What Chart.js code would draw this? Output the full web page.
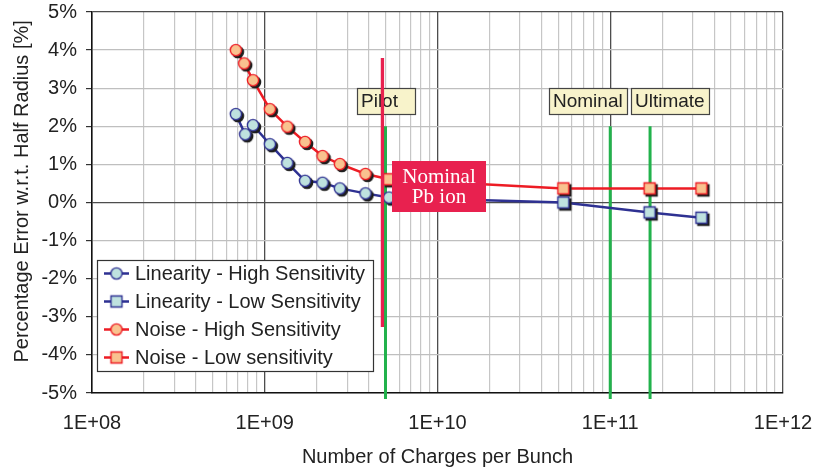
<!DOCTYPE html>
<html>
<head>
<meta charset="utf-8">
<script src="https://cdn.jsdelivr.net/npm/chart.js@4.4.0/dist/chart.umd.min.js"></script>
<style>
    html, body { margin: 0; padding: 0; background: #fff; }
    #wrap { width: 815px; height: 471px; }
</style>
</head>
<body>
<div id="wrap"><canvas id="myChart" width="815" height="471"></canvas></div>
<script>
// charges per bunch (x) and percentage error (y)
const linHighX = [6.8e8, 7.7e8, 8.55e8, 1.07e9, 1.35e9, 1.71e9, 2.16e9, 2.72e9, 3.83e9, 5.24e9];
const linHighY = [2.32, 1.79, 2.03, 1.53, 1.04, 0.57, 0.52, 0.37, 0.24, 0.13];
// first point of the low series is the joint with the high series (no marker)
const linLowX = [5.24e9, 5.35e10, 1.69e11, 3.37e11];
const linLowY = [0.13, 0.00, -0.26, -0.40];
const noiseHighX = [6.8e8, 7.6e8, 8.55e8, 1.07e9, 1.35e9, 1.71e9, 2.16e9, 2.72e9, 3.83e9];
const noiseHighY = [4.00, 3.65, 3.21, 2.45, 1.99, 1.59, 1.22, 1.01, 0.75];
const noiseLowX = [3.83e9, 5.24e9, 5.35e10, 1.69e11, 3.37e11];
const noiseLowY = [0.75, 0.61, 0.37, 0.37, 0.37];

const seriesNames = ['Linearity - High Sensitivity', 'Linearity - Low Sensitivity', 'Noise - High Sensitivity', 'Noise - Low sensitivity'];

// vertical markers
const beamLabels = ['Pilot', 'Nominal', 'Ultimate'];
const beamCharges = [5e9, 1e11, 1.7e11];
const pbIonCharges = 4.8e9;
const pbIonLabel = ['Nominal', 'Pb ion'];

const yTicks = [-5, -4, -3, -2, -1, 0, 1, 2, 3, 4, 5];

let xTicks = [];
for (let e = 8; e < 12; e++) {
    for (let m = 1; m < 10; m++) {
        xTicks.push(Number((m * Math.pow(10, e)).toPrecision(3)));
    }
}
xTicks.push(1e12);

function isDecade(v) {
    const l = Math.log10(v);
    return Math.abs(l - Math.round(l)) < 1e-9;
}

function marker(shape, fill, stroke, shadow) {
    const c = document.createElement('canvas');
    c.width = 20; c.height = 20;
    const g = c.getContext('2d');
    const paint = (cx, cy, f, s) => {
        g.beginPath();
        if (shape === 'circle') g.arc(cx, cy, 5.6, 0, Math.PI * 2);
        else g.rect(cx - 5.5, cy - 5.5, 11, 11);
        g.fillStyle = f;
        g.fill();
        g.lineWidth = 1.4;
        g.strokeStyle = s;
        g.stroke();
    };
    if (shadow) paint(12, 12, '#1e1e1e', '#1e1e1e');
    paint(10, 10, fill, stroke);
    return c;
}

const navy = '#2e3192';
const red = '#ed1c24';
const cyanFill = '#bfe2df';
const peachFill = '#f9c28f';
const green = '#22b24c';
const pink = '#e8214f';

const shapes = ['circle', 'rect', 'circle', 'rect'];
const lineColors = [navy, navy, red, red];
const fills = [cyanFill, cyanFill, peachFill, peachFill];
const plotMarks = shapes.map((s, i) => marker(s, fills[i], lineColors[i], true));
const legendMarks = shapes.map((s, i) => marker(s, fills[i], lineColors[i], false));

const xs = [linHighX, linLowX, noiseHighX, noiseLowX];
const ys = [linHighY, linLowY, noiseHighY, noiseLowY];

const datasets = seriesNames.map((name, i) => ({
    label: name,
    data: xs[i].map((x, k) => ({ x: x, y: ys[i][k] })),
    borderColor: lineColors[i],
    backgroundColor: fills[i],
    borderWidth: 2.5,
    pointStyle: plotMarks[i],
    pointRadius: (i % 2 === 1) ? (c => c.dataIndex === 0 ? 0 : 6) : 6,
    tension: 0,
    fill: false
}));

const FONT = '"Liberation Sans", Arial, sans-serif';
Chart.defaults.font.family = FONT;

const beamLines = {
    id: 'beamLines',
    beforeDatasetsDraw(chart) {
        const c = chart.ctx, sx = chart.scales.x, sy = chart.scales.y;
        c.save();
        c.strokeStyle = green;
        c.lineWidth = 3;
        beamCharges.forEach(v => {
            const px = sx.getPixelForValue(v);
            c.beginPath();
            c.moveTo(px, sy.getPixelForValue(2));
            c.lineTo(px, sy.bottom + 6);
            c.stroke();
        });
        c.restore();
    },
    afterDatasetsDraw(chart) {
        const c = chart.ctx, sx = chart.scales.x, sy = chart.scales.y;
        c.save();
        // label boxes
        const boxes = [[357, 88, 58], [549, 88, 78], [631, 88, 78]];
        c.font = '19px ' + FONT;
        c.textBaseline = 'middle';
        c.textAlign = 'left';
        boxes.forEach((b, i) => {
            c.fillStyle = '#f8f3cb';
            c.fillRect(b[0], b[1], b[2], 26);
            c.strokeStyle = '#444';
            c.lineWidth = 1.2;
            c.strokeRect(b[0] + 0.5, b[1] + 0.5, b[2], 26);
            c.fillStyle = '#222';
            c.fillText(beamLabels[i], b[0] + 4, b[1] + 14);
        });
        // Pb ion line
        const px = sx.getPixelForValue(pbIonCharges);
        c.strokeStyle = pink;
        c.lineWidth = 3.3;
        c.beginPath();
        c.moveTo(px, sy.getPixelForValue(3.79));
        c.lineTo(px, sy.getPixelForValue(-3.27));
        c.stroke();
        // Pb ion box
        c.fillStyle = pink;
        c.fillRect(392, 161, 94, 51);
        c.fillStyle = '#fff';
        c.font = '21px "Liberation Serif", "Times New Roman", serif';
        c.textAlign = 'center';
        c.fillText(pbIonLabel[0], 439, 177);
        c.fillText(pbIonLabel[1], 439, 197);
        c.restore();
    }
};

const legendBox = {
    id: 'legendBox',
    afterDraw(chart) {
        const c = chart.ctx;
        c.save();
        c.fillStyle = '#fff';
        c.fillRect(97.5, 260.5, 276, 111);
        c.strokeStyle = '#333';
        c.lineWidth = 1.2;
        c.strokeRect(97.5, 260.5, 276, 111);
        c.font = '20px ' + FONT;
        c.textBaseline = 'middle';
        c.textAlign = 'left';
        chart.data.datasets.forEach((ds, i) => {
            const y = 273.5 + i * 28;
            c.strokeStyle = ds.borderColor;
            c.lineWidth = 2.5;
            c.beginPath();
            c.moveTo(104, y);
            c.lineTo(129, y);
            c.stroke();
            c.drawImage(legendMarks[i], 116.5 - 10, y - 10);
            c.fillStyle = '#222';
            c.fillText(ds.label, 135, y + 1);
        });
        c.restore();
    }
};

const ctx = document.getElementById('myChart');
const myChart = new Chart(ctx, {
    type: 'line',
    data: { datasets: datasets },
    options: {
        responsive: false,
        animation: false,
        layout: { padding: { left: 0, right: 32, top: 12, bottom: 0 } },
        plugins: { legend: { display: false }, tooltip: { enabled: false } },
        scales: {
            x: {
                type: 'logarithmic',
                min: 1e8,
                max: 1e12,
                afterBuildTicks: s => { s.ticks = xTicks.map(v => ({ value: v })); },
                afterFit: s => { s.height = 78; s.paddingLeft = 0; s.paddingRight = 0; },
                ticks: {
                    autoSkip: false,
                    maxRotation: 0,
                    padding: 18,
                    color: '#222',
                    font: { size: 20 },
                    callback: v => isDecade(v) ? '1E+' + String(Math.round(Math.log10(v))).padStart(2, '0') : ''
                },
                grid: {
                    drawTicks: false,
                    color: c => (c.tick && isDecade(c.tick.value)) ? '#4d4d4d' : '#c6c6c6',
                    lineWidth: c => (c.tick && isDecade(c.tick.value)) ? 1.3 : 1.2
                },
                border: { color: '#111', width: 1.5 },
                title: {
                    display: true,
                    text: 'Number of Charges per Bunch',
                    color: '#222',
                    font: { size: 20 },
                    padding: { top: 0, bottom: 2 }
                }
            },
            y: {
                min: -5,
                max: 5,
                afterBuildTicks: s => { s.ticks = yTicks.map(v => ({ value: v })); },
                afterFit: s => { s.width = 92; s.paddingTop = 0; s.paddingBottom = 0; },
                ticks: {
                    padding: 9,
                    color: '#222',
                    font: { size: 20 },
                    callback: v => v + '%'
                },
                grid: {
                    tickLength: 6,
                    tickColor: '#333',
                    color: c => (c.tick && (c.tick.value === 0 || c.tick.value === 5)) ? '#4d4d4d' : '#bfbfbf',
                    lineWidth: 1.2
                },
                border: { color: '#111', width: 1.5 },
                title: {
                    display: true,
                    text: '    Percentage Error w.r.t. Half Radius [%]',
                    color: '#222',
                    font: { size: 20 },
                    padding: { top: 10, bottom: 0 }
                }
            }
        }
    },
    plugins: [beamLines, legendBox]
});
</script>
</body>
</html>
